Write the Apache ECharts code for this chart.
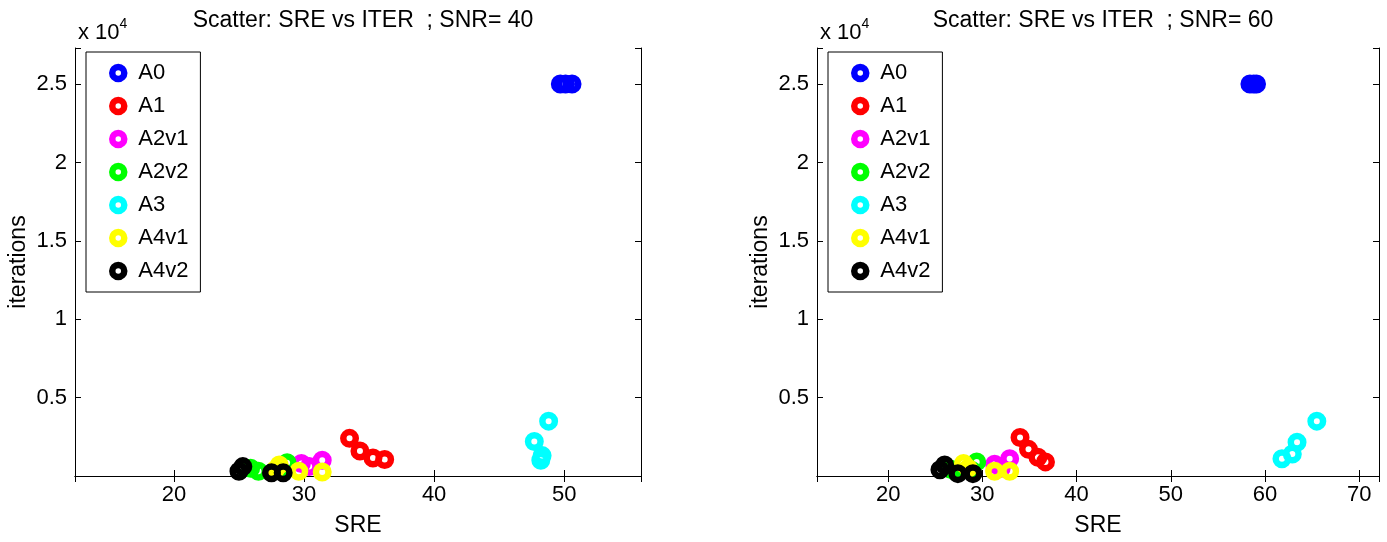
<!DOCTYPE html>
<html>
<head>
<meta charset="utf-8">
<script src="https://cdn.jsdelivr.net/npm/echarts@6/dist/echarts.min.js"></script>
<style>
  html, body { margin: 0; padding: 0; background: #ffffff; }
  #chart { width: 1387px; height: 542px; }
</style>
</head>
<body>
<div id="chart"></div>
<script>
// Algorithm names and their marker colours
const algorithmNames = ['A0', 'A1', 'A2v1', 'A2v2', 'A3', 'A4v1', 'A4v2'];
const algorithmColors = ['#0000ff', '#ff0000', '#ff00ff', '#00ff00', '#00ffff', '#ffff00', '#000000'];

// Panel titles
const panelTitles = ['Scatter: SRE vs ITER  ; SNR= 40', 'Scatter: SRE vs ITER  ; SNR= 60'];

// SNR = 40 : [SRE, iterations]
const snr40_A0   = [[49.7, 25000], [50.1, 25000], [50.6, 25000]];
const snr40_A1   = [[33.5, 2400], [34.3, 1600], [35.3, 1150], [36.2, 1050]];
const snr40_A2v1 = [[29.8, 800], [30.4, 600], [31.4, 1000]];
const snr40_A2v2 = [[25.9, 500], [26.5, 300], [28.7, 850], [28.2, 400]];
const snr40_A3   = [[48.8, 3500], [47.7, 2200], [48.3, 1300], [48.2, 1000]];
const snr40_A4v1 = [[28.1, 700], [29.6, 300], [31.4, 250], [27.8, 400]];
const snr40_A4v2 = [[25.0, 300], [25.3, 600], [27.5, 200], [28.4, 200]];

// SNR = 60 : [SRE, iterations]
const snr60_A0   = [[58.4, 25000], [58.8, 25000], [59.1, 25000]];
const snr60_A1   = [[34.0, 2450], [34.9, 1700], [35.9, 1200], [36.7, 900]];
const snr60_A2v1 = [[31.3, 750], [32.0, 500], [32.9, 1100]];
const snr60_A2v2 = [[26.6, 450], [27.1, 300], [29.4, 900], [28.9, 350]];
const snr60_A3   = [[65.5, 3500], [63.4, 2150], [62.9, 1400], [61.8, 1100]];
const snr60_A4v1 = [[28.0, 800], [31.3, 300], [32.9, 300], [28.5, 500]];
const snr60_A4v2 = [[25.5, 400], [26.0, 700], [27.4, 150], [29.0, 150]];

// Axis ranges
const sreRange40 = [12.4, 55.9];
const sreRange60 = [12.45, 72.1];
const iterRange = [0, 27300];
const iterTickStep = 5000;

const panelData = [
  [snr40_A0, snr40_A1, snr40_A2v1, snr40_A2v2, snr40_A3, snr40_A4v1, snr40_A4v2],
  [snr60_A0, snr60_A1, snr60_A2v1, snr60_A2v2, snr60_A3, snr60_A4v1, snr60_A4v2]
];
const sreRanges = [sreRange40, sreRange60];

const FONT = 'Liberation Sans, Arial, Helvetica, sans-serif';
const grids = [
  { left: 75, right: 746, top: 48, bottom: 53 },
  { left: 817, right: 8, top: 48, bottom: 53 }
];

const xAxes = [], yAxes = [], series = [], titles = [], legends = [];
const axisLine = { show: true, lineStyle: { color: '#000', width: 1 } };
const tickIn = { show: true, inside: true, length: 6, lineStyle: { color: '#000', width: 1 } };

grids.forEach((g, i) => {
  const [xmin, xmax] = sreRanges[i];
  // bottom SRE axis
  xAxes.push({
    gridIndex: i, type: 'value', position: 'bottom', min: xmin, max: xmax,
    axisLine, axisTick: tickIn, splitLine: { show: false },
    axisLabel: {
      color: '#000', fontFamily: FONT, fontSize: 22, margin: 8,
      formatter: v => (Math.abs(v - Math.round(v / 10) * 10) < 1e-6 ? String(Math.round(v)) : '')
    },
    name: 'SRE', nameLocation: 'middle', nameGap: 38,
    nameTextStyle: { color: '#000', fontFamily: FONT, fontSize: 23 }
  });
  // top box edge with ticks
  xAxes.push({
    gridIndex: i, type: 'value', position: 'top', min: xmin, max: xmax,
    axisLine, axisTick: tickIn, axisLabel: { show: false }, splitLine: { show: false }
  });
  // left iterations axis
  yAxes.push({
    gridIndex: i, type: 'value', position: 'left', min: iterRange[0], max: iterRange[1], interval: iterTickStep,
    axisLine, axisTick: tickIn, splitLine: { show: false },
    axisLabel: {
      color: '#000', fontFamily: FONT, fontSize: 22, margin: 8,
      formatter: v => (v > 0 && v % iterTickStep === 0 ? String(v / 10000) : '')
    },
    name: 'iterations', nameLocation: 'middle', nameGap: 45, nameRotate: 90,
    nameTextStyle: { color: '#000', fontFamily: FONT, fontSize: 23 }
  });
  // right box edge with ticks
  yAxes.push({
    gridIndex: i, type: 'value', position: 'right', min: iterRange[0], max: iterRange[1], interval: iterTickStep,
    axisLine, axisTick: tickIn, axisLabel: { show: false }, splitLine: { show: false }
  });

  const plotW = 1387 - g.left - g.right;
  titles.push({
    text: panelTitles[i], left: g.left + plotW / 2, top: 4, textAlign: 'center',
    textStyle: { color: '#000', fontFamily: FONT, fontSize: 23, fontWeight: 'normal' }
  });
  titles.push({
    text: 'x 10{sup|4}', left: g.left - 2, top: 12,
    textStyle: {
      color: '#000', fontFamily: FONT, fontSize: 22, fontWeight: 'normal', lineHeight: 32,
      verticalAlign: 'bottom',
      rich: { sup: { fontSize: 14, fontFamily: FONT, color: '#000', verticalAlign: 'top', lineHeight: 15 } }
    }
  });

  legends.push({
    data: algorithmNames, orient: 'vertical', left: g.left + 11, top: g.top + 4,
    icon: 'circle', itemWidth: 12, itemHeight: 12, itemGap: 11,
    padding: [10, 12, 10, 23], backgroundColor: '#fff', borderColor: '#000', borderWidth: 1,
    selectedMode: false,
    itemStyle: { borderWidth: 6.5 },
    textStyle: { color: '#000', fontFamily: FONT, fontSize: 22, lineHeight: 20, padding: [0, 0, 0, 9] }
  });

  algorithmNames.forEach((name, k) => {
    series.push({
      name, type: 'scatter', xAxisIndex: 2 * i, yAxisIndex: 2 * i,
      data: panelData[i][k], symbol: 'circle', symbolSize: 12.5, clip: false,
      itemStyle: { color: 'rgba(0,0,0,0)', borderColor: algorithmColors[k], borderWidth: 6.5, opacity: 1 },
      emphasis: { disabled: true }
    });
  });
});

const chart = echarts.init(document.getElementById('chart'), null, { renderer: 'canvas' });
chart.setOption({
  animation: false,
  backgroundColor: '#ffffff',
  title: titles,
  legend: legends,
  grid: grids,
  xAxis: xAxes,
  yAxis: yAxes,
  series
});
</script>
</body>
</html>
